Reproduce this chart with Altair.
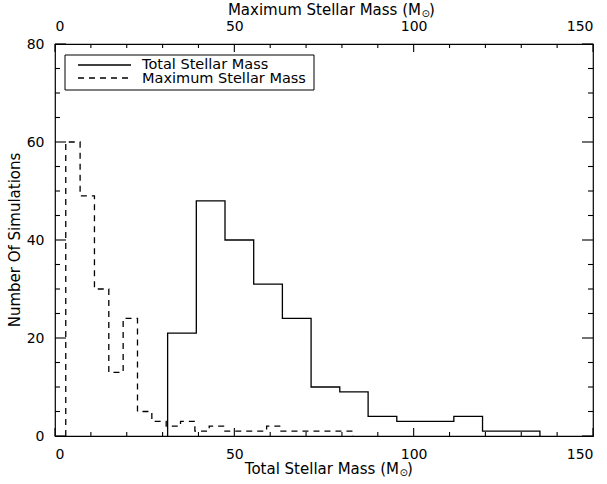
import altair as alt
import pandas as pd

# ---- data ----
# Total stellar mass histogram (bottom axis)
total_edges = [31.4, 39.4, 47.4, 55.4, 63.4, 71.4, 79.4, 87.3, 95.3, 103.2, 111.2, 119.2, 127.2, 135.2]
total_counts = [21, 48, 40, 31, 24, 10, 9, 4, 3, 3, 4, 1, 1]

# Maximum stellar mass histogram (top axis)
max_edges = [3, 7, 11, 15, 19, 23, 27, 31, 35, 39, 43, 47, 51, 55, 59, 63, 67, 71, 75, 79, 83]
max_counts = [60, 49, 30, 13, 24, 5, 3, 2, 3, 1, 2, 1, 1, 1, 2, 1, 1, 1, 1, 1]

x_major = [0, 50, 100, 150]
x_minor = [10, 20, 30, 40, 60, 70, 80, 90, 110, 120, 130, 140]
y_major = [0, 20, 40, 60, 80]
y_minor = [5, 10, 15, 25, 30, 35, 45, 50, 55, 65, 70, 75]

legend_labels = ["Total Stellar Mass", "Maximum Stellar Mass"]

W, H = 538, 392
FONT = "DejaVu Sans"
XMAX, YMAX = 150, 80
TICK_COLOR = "black"


def step_frame(edges, counts):
    xs = [edges[0]] + list(edges)
    ys = [0] + list(counts) + [0]
    return pd.DataFrame({"x": xs, "y": ys, "o": list(range(len(xs)))})


xscale = alt.Scale(domain=[0, XMAX], nice=False, zero=False)
yscale = alt.Scale(domain=[0, YMAX], nice=False, zero=False)

tot_df = step_frame(total_edges, total_counts)
max_df = step_frame(max_edges, max_counts)

bottom_axis = alt.Axis(orient="bottom", values=x_major, domain=False, ticks=False, grid=False,
                       labelFontSize=14, labelPadding=11, labelFont=FONT, title=None, labelColor="black")
top_axis = alt.Axis(orient="top", values=x_major, domain=False, ticks=False, grid=False,
                    labelFontSize=14, labelPadding=11, labelFont=FONT, title=None, labelColor="black")
left_axis = alt.Axis(orient="left", values=y_major, domain=False, ticks=False, grid=False,
                     labelFontSize=14, labelPadding=11, labelFont=FONT, title=None, labelColor="black")

total_line = alt.Chart(tot_df).mark_line(interpolate="step-after", color="black", strokeWidth=1.3).encode(
    x=alt.X("x:Q", scale=xscale, axis=bottom_axis),
    y=alt.Y("y:Q", scale=yscale, axis=left_axis),
    order="o:Q",
)

max_line = alt.Chart(max_df).mark_line(interpolate="step-after", color="black", strokeWidth=1.3,
                                       strokeDash=[6, 5]).encode(
    x=alt.X("x:Q", scale=xscale, axis=top_axis),
    y=alt.Y("y:Q", scale=yscale, axis=None),
    order="o:Q",
)

# inward tick marks as rules drawn through the scales (lengths converted from pixels)
px_y = YMAX / H
px_x = XMAX / W

xtick_rows = []
for v in x_major:
    xtick_rows += [(v, 0, 8 * px_y), (v, YMAX, YMAX - 8 * px_y)]
for v in x_minor:
    xtick_rows += [(v, 0, 4 * px_y), (v, YMAX, YMAX - 4 * px_y)]
ytick_rows = []
for v in y_major:
    ytick_rows += [(v, 0, 11 * px_x), (v, XMAX, XMAX - 11 * px_x)]
for v in y_minor:
    ytick_rows += [(v, 0, 5 * px_x), (v, XMAX, XMAX - 5 * px_x)]

xt_df = pd.DataFrame(xtick_rows, columns=["tx", "ty1", "ty2"])
yt_df = pd.DataFrame(ytick_rows, columns=["ty", "tx1", "tx2"])

xticks = alt.Chart(xt_df).mark_rule(color=TICK_COLOR, strokeWidth=1.1).encode(
    x=alt.X("tx:Q", scale=xscale, axis=None),
    y=alt.Y("ty1:Q", scale=yscale, axis=None),
    y2="ty2:Q",
)
yticks = alt.Chart(yt_df).mark_rule(color=TICK_COLOR, strokeWidth=1.1).encode(
    y=alt.Y("ty:Q", scale=yscale, axis=None),
    x=alt.X("tx1:Q", scale=xscale, axis=None),
    x2="tx2:Q",
)

one = pd.DataFrame({"a": [0]})

# ---- legend (decoration) ----
leg_box = alt.Chart(one).mark_rect(fill="white", stroke="black", strokeWidth=1).encode(
    x=alt.value(10), x2=alt.value(259), y=alt.value(11), y2=alt.value(46))
leg_solid = alt.Chart(one).mark_rule(color="black", strokeWidth=1.3).encode(
    x=alt.value(23), x2=alt.value(76), y=alt.value(21))
leg_dash = alt.Chart(one).mark_rule(color="black", strokeWidth=1.3, strokeDash=[6, 5]).encode(
    x=alt.value(23), x2=alt.value(76), y=alt.value(34))
leg_text1 = alt.Chart(one).mark_text(
    align="left", baseline="middle", font=FONT, fontSize=14.5, color="black", text=legend_labels[0]).encode(
    x=alt.value(87), y=alt.value(21))
leg_text2 = alt.Chart(one).mark_text(
    align="left", baseline="middle", font=FONT, fontSize=14.5, color="black", text=legend_labels[1]).encode(
    x=alt.value(87), y=alt.value(35))


def title_parts(main, xr, yc):
    a = alt.Chart(one).mark_text(
        align="right", baseline="middle", font=FONT, fontSize=15, color="black", text=main).encode(
        x=alt.value(xr), y=alt.value(yc))
    b = alt.Chart(one).mark_text(
        align="left", baseline="middle", font=FONT, fontSize=10, color="black", text="\u2299").encode(
        x=alt.value(xr + 0.5), y=alt.value(yc + 4))
    c = alt.Chart(one).mark_text(
        align="left", baseline="middle", font=FONT, fontSize=15, color="black", text=")").encode(
        x=alt.value(xr + 8), y=alt.value(yc))
    return [a, b, c]


bottom_title = title_parts("Total Stellar Mass (M", 344, 425)
top_title = title_parts("Maximum Stellar Mass (M", 366, -34)
y_title = alt.Chart(one).mark_text(
    angle=270, align="center", baseline="middle", font=FONT, fontSize=15, color="black",
    text="Number Of Simulations").encode(
    x=alt.value(-40), y=alt.value(H / 2))

chart = alt.layer(
    total_line, max_line, xticks, yticks, leg_box, leg_solid, leg_dash, leg_text1, leg_text2,
    *bottom_title, *top_title, y_title,
).resolve_axis(x="independent", y="independent").properties(
    width=W, height=H, autosize="none", background="white",
    padding={"left": 55, "top": 44, "right": 14, "bottom": 48},
).configure_view(stroke="black", strokeWidth=1.2)

chart.save("out.html", embed_options={"renderer": "svg", "actions": False})
